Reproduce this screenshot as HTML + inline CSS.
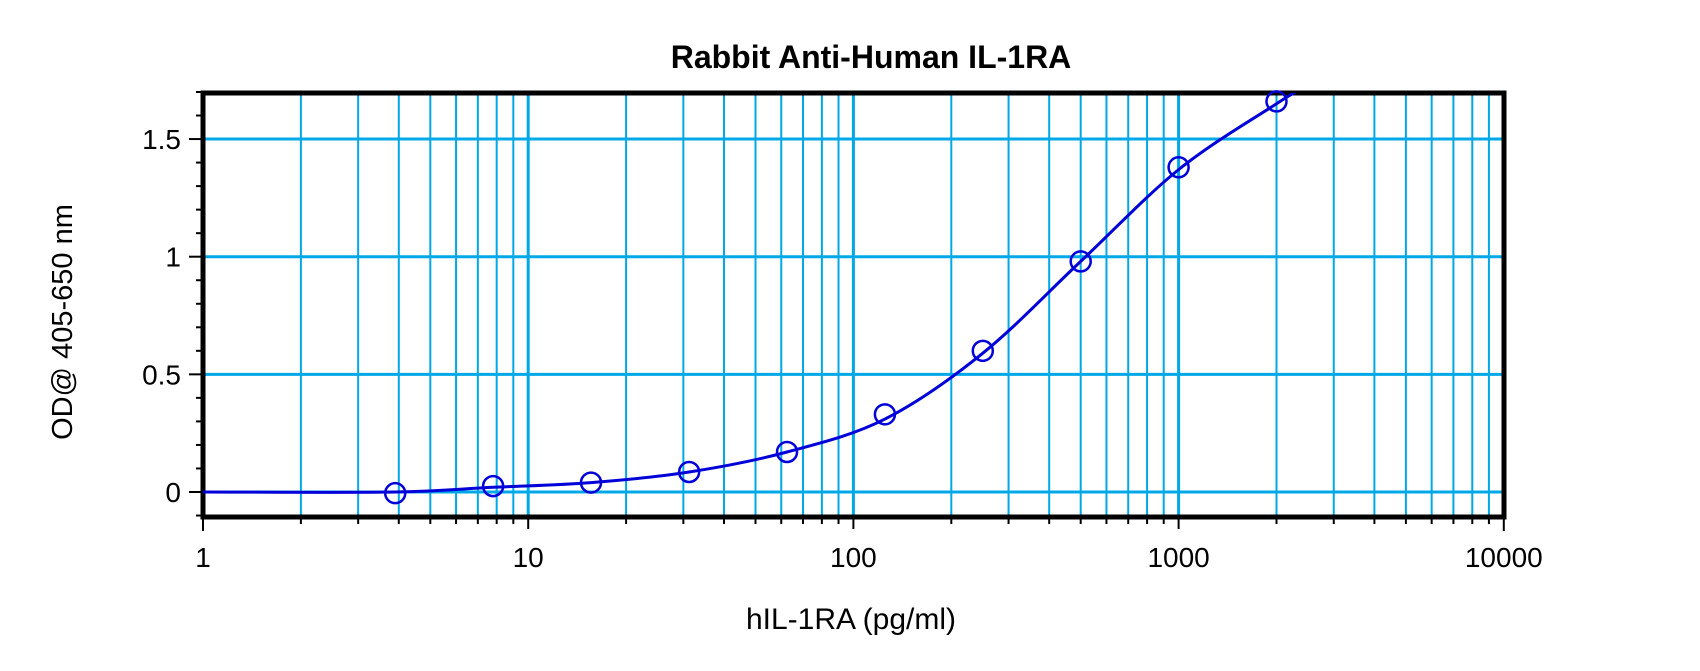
<!DOCTYPE html>
<html><head><meta charset="utf-8"><style>
html,body{margin:0;padding:0;background:#fff;}
svg{display:block;font-family:"Liberation Sans",Arial,sans-serif;}
</style></head><body>
<svg id="s" width="1700" height="671" viewBox="0 0 1700 671" xmlns="http://www.w3.org/2000/svg">
<rect width="1700" height="671" fill="#fff"/>
<g id="grid"></g>
<g id="ax"></g>
<path id="curve" fill="none" stroke="#0000d8" stroke-width="3"/>
<g id="pts" fill="none" stroke="#0000d8" stroke-width="2.5"></g>
<text x="871" y="68" text-anchor="middle" font-size="32" font-weight="bold">Rabbit Anti-Human IL-1RA</text>
<text x="851" y="629" text-anchor="middle" font-size="30">hIL-1RA (pg/ml)</text>
<text transform="translate(72,322) rotate(-90)" text-anchor="middle" font-size="29">OD@ 405-650 nm</text>
<g id="lbl" font-size="28"></g>
</svg>
<script>
var L=203,R=1504,T=93,B=517;
function X(v){return L+325.2*Math.log10(v);}
function Y(v){return 492-235.3*v;}
var ns="http://www.w3.org/2000/svg";
function el(p,t,a,txt){var e=document.createElementNS(ns,t);for(var k in a)e.setAttribute(k,a[k]);if(txt!=null)e.textContent=txt;document.getElementById(p).appendChild(e);return e;}
var c="#00a8e8";
for(var d=1;d<10000;d*=10){for(var m=1;m<10;m++){var v=d*m;if(v<=1)continue;var x=X(v);
 el("grid","line",{x1:x,x2:x,y1:T,y2:B,stroke:c,"stroke-width":m==1?3:2});
 el("ax","line",{x1:x,x2:x,y1:B,y2:B+(m==1?12:7),stroke:"#000","stroke-width":2});}}
el("ax","line",{x1:X(10000),x2:X(10000),y1:B,y2:B+14,stroke:"#000","stroke-width":2});
el("ax","line",{x1:L,x2:L,y1:B,y2:B+14,stroke:"#000","stroke-width":2});
[0,0.5,1,1.5].forEach(function(v){el("grid","line",{x1:L,x2:R,y1:Y(v),y2:Y(v),stroke:c,"stroke-width":3});
 el("lbl","text",{x:181,y:Y(v)+10,"text-anchor":"end"},String(v));});
for(var i=-1;i<=17;i++){var v=i/10;var y=Y(v);el("ax","line",{x1:L-(i%5==0?14:7),x2:L,y1:y,y2:y,stroke:"#000","stroke-width":2});}
el("ax","rect",{x:L,y:T,width:R-L,height:B-T,fill:"none",stroke:"#000","stroke-width":5});
[1,10,100,1000,10000].forEach(function(v){el("lbl","text",{x:X(v),y:567,"text-anchor":"middle"},String(v));});
var P=[[1,0],[3.9,0.0],[7.8,0.02],[15.6,0.04],[31.25,0.085],[62.5,0.17],[125,0.31],[250,0.59],[500,0.98],[1000,1.37],[2000,1.65],[2400,1.715]];
var q=P.map(function(p){return [X(p[0]),Y(p[1])];});
var d="M"+q[0][0]+","+q[0][1];
for(var i=0;i<q.length-1;i++){var p0=q[Math.max(0,i-1)],p1=q[i],p2=q[i+1],p3=q[Math.min(q.length-1,i+2)];
 d+=" C"+(p1[0]+(p2[0]-p0[0])/6)+","+(p1[1]+(p2[1]-p0[1])/6)+" "+(p2[0]-(p3[0]-p1[0])/6)+","+(p2[1]-(p3[1]-p1[1])/6)+" "+p2[0]+","+p2[1];}
var cp=el("s","clipPath",{id:"cl"});var r=document.createElementNS(ns,"rect");r.setAttribute("x",L);r.setAttribute("y",T);r.setAttribute("width",R-L);r.setAttribute("height",B-T);cp.appendChild(r);
var cv=document.getElementById("curve");cv.setAttribute("d",d);cv.setAttribute("clip-path","url(#cl)");
[[3.9,-0.005],[7.8,0.025],[15.6,0.04],[31.25,0.085],[62.5,0.17],[125,0.33],[250,0.6],[500,0.98],[1000,1.38],[2000,1.66]].forEach(function(p){
 el("pts","circle",{cx:X(p[0]),cy:Y(p[1]),r:10});});
</script>
</body></html>
